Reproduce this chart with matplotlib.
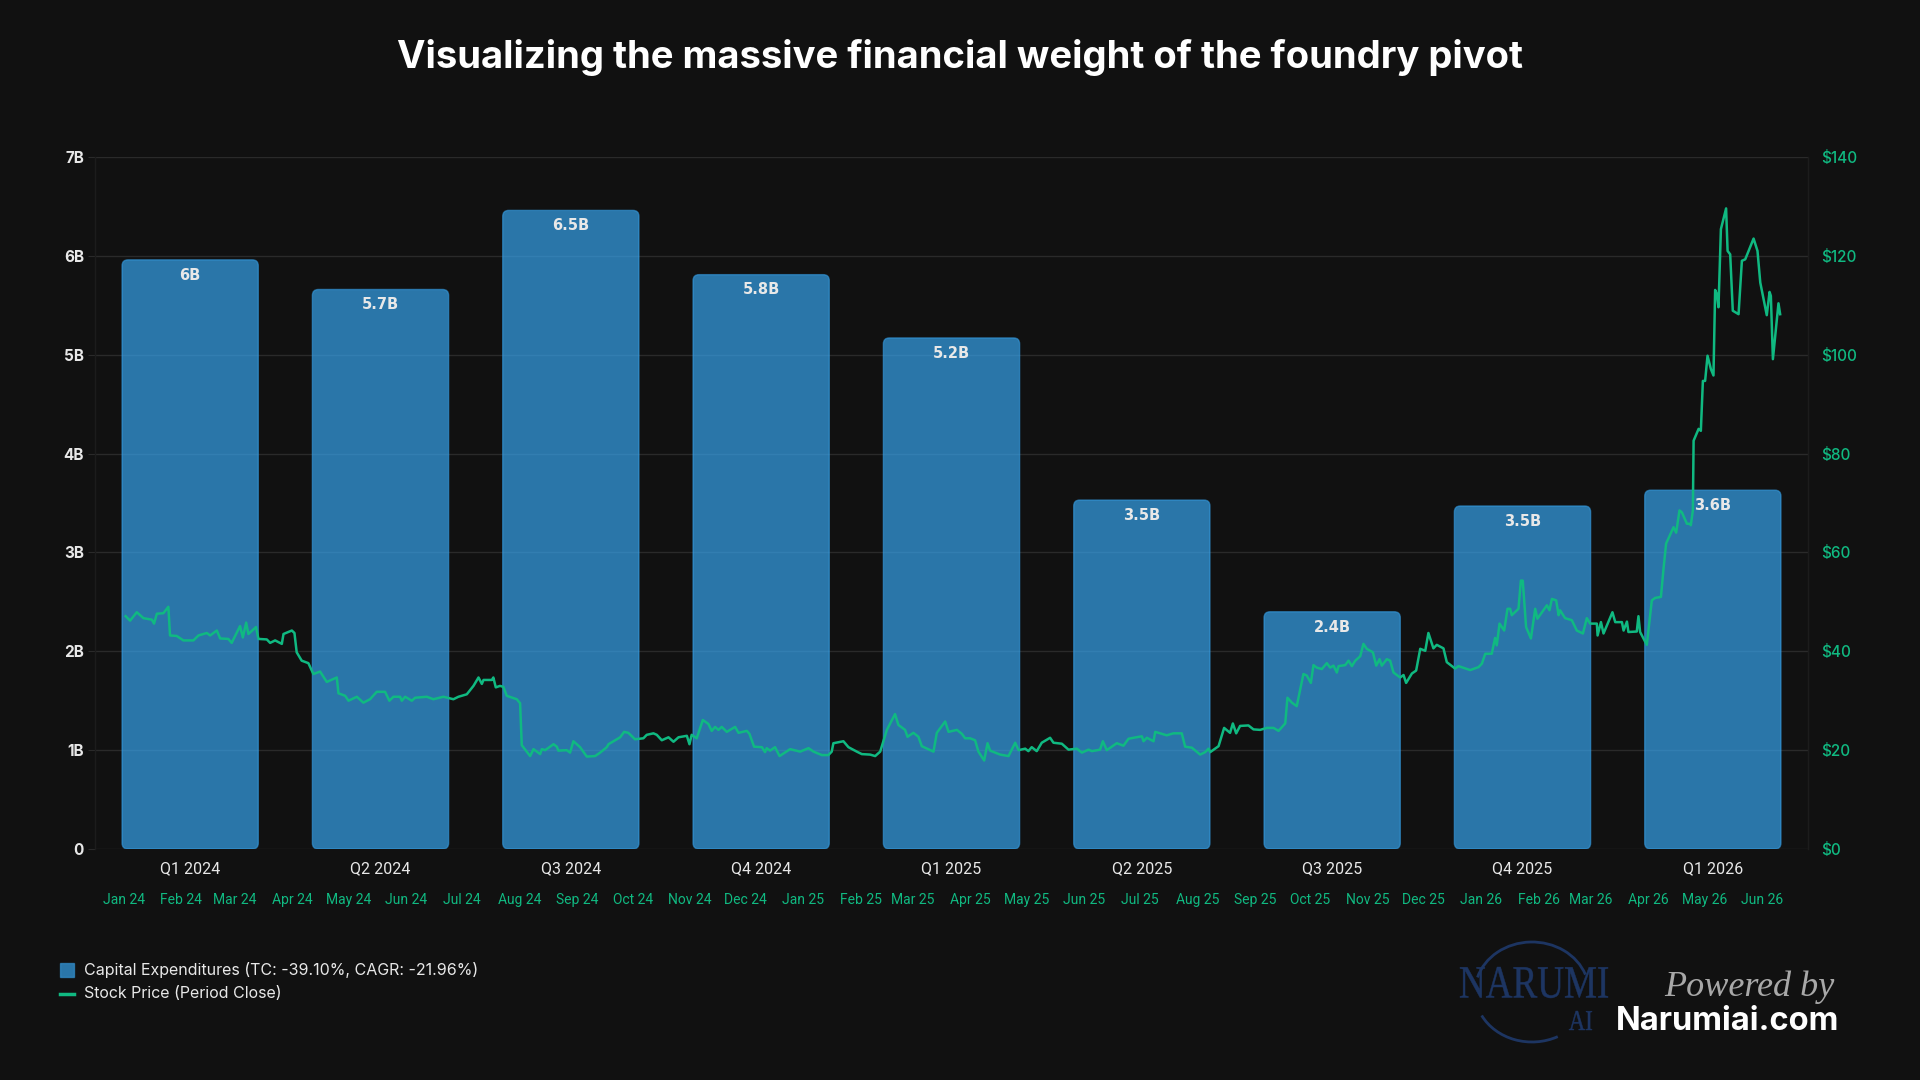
import numpy as np
import matplotlib
matplotlib.use("Agg")
import matplotlib.pyplot as plt
import matplotlib.dates as mdates
from matplotlib.patches import FancyBboxPatch, Arc, Rectangle, PathPatch
from matplotlib.lines import Line2D
from matplotlib.textpath import TextPath
from matplotlib.font_manager import FontProperties
from matplotlib.transforms import Affine2D

# ---------------- data ----------------
title = "Visualizing the massive financial weight of the foundry pivot"
quarters = ["Q1 2024", "Q2 2024", "Q3 2024", "Q4 2024", "Q1 2025",
            "Q2 2025", "Q3 2025", "Q4 2025", "Q1 2026"]
capex_billions = [5.96, 5.66, 6.46, 5.81, 5.17, 3.53, 2.40, 3.47, 3.63]
capex_tick_values = [0, 1, 2, 3, 4, 5, 6, 7]
capex_tick_labels = ["0", "1B", "2B", "3B", "4B", "5B", "6B", "7B"]
price_tick_values = [0, 20, 40, 60, 80, 100, 120, 140]
price_tick_labels = ["$0", "$20", "$40", "$60", "$80", "$100", "$120", "$140"]
legend_capex = "Capital Expenditures (TC: -39.10%, CAGR: -21.96%)"
legend_stock = "Stock Price (Period Close)"

stock_base_date = "2024-01-01"
stock_day_offset = [
    1.0, 3.4, 7.0, 10.6, 15.1, 16.3, 17.8, 21.3, 24.0, 24.9, 28.5, 32.1, 37.5, 40.2, 44.7, 46.5,
    50.1, 51.9, 56.3, 58.1, 62.6, 64.1, 65.9, 67.1, 71.2, 72.5, 77.0, 78.8, 81.5, 85.1, 86.0, 90.5,
    91.9, 93.1, 95.8, 99.4, 102.1, 105.7, 109.3, 114.7, 115.6, 119.2, 121.0, 125.5, 129.0, 132.6,
    136.2, 140.7, 143.0, 145.2, 148.8, 149.7, 151.5, 155.1, 156.9, 163.2, 166.7, 172.1, 177.5,
    180.2, 184.7, 188.3, 191.0, 192.8, 193.7, 198.2, 199.0, 200.3,
    202.6, 204.4, 206.2, 211.6, 213.4, 214.3, 218.8, 220.6, 224.2, 225.1, 226.9, 231.4, 233.2,
    234.0, 238.5, 240.3, 242.1, 245.7, 249.3, 253.8, 256.5, 260.1, 261.0, 264.6, 267.3, 269.4,
    271.7, 275.3, 279.8, 281.6, 285.2, 287.0, 289.7, 293.3, 296.0, 298.7, 303.2, 304.6, 305.8,
    308.5, 311.8, 314.8, 316.6, 318.4, 320.2, 322.0, 324.7, 329.2, 331.0, 335.5, 336.9, 339.4,
    343.6, 345.3, 346.2, 348.0, 350.7, 353.1, 358.8, 364.2, 368.7, 371.4, 375.9, 379.4, 381.2,
    382.1, 387.5, 390.2, 394.7, 397.4, 401.9, 404.6, 407.3, 410.9, 415.3, 417.1, 420.7, 422.0,
    425.2, 427.9, 429.7, 436.0, 437.8, 442.3, 444.1, 448.6, 451.3, 453.0, 455.7, 458.4, 460.2,
    463.3, 465.1, 466.5,
    471.9, 476.4, 480.0, 481.8, 485.4, 487.1, 488.9, 491.6, 494.3, 498.8, 500.6, 505.1, 508.7,
    513.2, 515.9, 519.5, 521.3, 525.7, 527.2, 529.3, 534.7, 538.3, 541.0, 543.7, 548.2, 549.1,
    550.9, 554.5, 555.4, 561.6, 565.2, 569.7, 571.5, 575.1, 579.6, 582.3, 584.1, 585.0, 589.5,
    592.5, 595.7, 597.2, 599.0, 601.1, 605.6, 608.3, 611.9, 615.5, 619.1, 621.8, 625.4, 626.6,
    629.0, 631.6, 635.2, 637.0, 639.2, 640.6, 642.4, 645.1, 647.8, 649.6, 651.4, 653.2, 654.1,
    657.7, 659.5, 661.3, 663.1, 665.8, 667.5, 669.3, 672.6, 674.4, 676.2, 677.4, 680.1, 681.9,
    683.7, 687.3, 689.1, 690.5, 693.6, 695.9, 698.1, 700.8, 702.5, 703.8, 705.2, 707.0, 710.6,
    712.4,
    716.9, 718.7, 725.0, 729.5, 731.3, 733.1, 736.6, 738.4, 739.3, 740.8, 743.3, 745.1, 746.5,
    747.4, 751.0, 752.3, 753.3, 755.1, 757.7, 760.0, 761.2, 766.3, 767.7, 769.0, 771.3, 772.6,
    773.4, 776.1, 779.7, 782.4, 785.7, 787.8, 789.6, 793.2, 793.6, 795.4, 796.8, 801.6, 803.1,
    806.7, 807.6, 809.4, 810.2, 814.7, 815.6, 816.5, 820.1, 822.8, 824.6, 827.7, 829.1, 830.5,
    834.5, 835.9, 837.7, 839.0, 841.7, 843.1, 843.8, 844.9, 845.3, 848.0, 849.2, 850.3, 851.5,
    852.8, 854.6, 856.0, 856.9, 857.8, 858.7, 860.0, 862.8, 863.6, 865.0, 866.4, 869.5, 871.3,
    873.1, 877.6, 879.7, 881.2, 884.7, 886.2, 886.9, 888.0, 891.0, 891.9,
]
stock_close = [
    47.1, 46.2, 47.9, 46.7, 46.4, 45.6, 47.6, 47.7, 49.0, 43.2, 43.1, 42.2, 42.2, 43.2, 43.7, 43.2,
    44.2, 42.6, 42.5, 41.7, 45.1, 42.8, 45.8, 43.5, 44.9, 42.5, 42.4, 41.7, 42.2, 41.5, 43.5, 44.2,
    43.7, 39.8, 38.1, 37.6, 35.4, 35.9, 33.8, 34.7, 31.5, 31.0, 30.0, 30.8, 29.6, 30.3,
    31.8, 31.8, 30.0, 30.8, 30.8, 30.0, 30.8, 30.0, 30.6, 30.8, 30.3, 30.8, 30.3,
    30.8, 31.3, 33.0, 34.7, 33.4, 34.2, 34.2, 34.7, 32.7,
    33.0, 32.8, 31.0, 30.3, 29.5, 21.0, 18.8, 20.2, 19.2, 20.2, 20.0, 21.2, 20.7,
    19.9, 20.0, 19.5, 21.8, 20.6, 18.7, 18.8, 19.5, 20.6, 21.2, 22.0, 22.6, 23.7,
    23.5, 22.2, 22.4, 23.1, 23.4, 23.1, 22.0, 22.6, 21.7, 22.6, 22.9, 21.2, 23.1,
    22.4, 26.1, 25.3, 23.9, 24.7, 24.1, 24.7, 23.7, 24.7, 23.5, 23.9, 23.3, 20.7,
    20.6, 19.6, 20.4, 19.9, 20.6, 18.8, 20.2, 19.7, 20.4, 19.7, 19.0, 19.0, 19.7,
    21.4, 21.8, 20.6, 19.7, 19.2, 19.1, 18.8, 19.7, 24.1, 27.3, 25.1, 24.1, 22.7,
    23.5, 22.7, 20.8, 19.7, 23.5, 25.8, 23.7, 24.1, 23.3, 22.4, 22.4, 22.0, 19.7,
    17.9, 21.4, 19.9,
    19.1, 18.8, 21.5, 20.0, 20.3, 19.8, 20.6, 19.8, 21.5, 22.5, 21.5, 21.3, 20.1,
    20.3, 19.5, 20.1, 19.8, 20.1, 21.8, 20.0, 21.4, 20.9, 22.3, 22.5, 22.8, 21.8,
    22.5, 21.8, 23.7, 23.0, 23.4, 23.4, 20.7, 20.5, 19.1, 19.6, 20.3, 19.6, 20.8,
    24.5, 23.5, 25.4, 23.4, 24.9, 25.0, 24.2, 24.1, 24.5, 24.5, 23.9, 25.4, 30.6,
    29.6, 28.9, 35.4, 35.1, 33.6, 37.2, 36.7, 36.4, 37.6, 36.7, 37.1, 35.7, 37.0,
    37.2, 38.1, 37.0, 38.1, 39.0, 41.5, 40.5, 39.8, 37.1, 38.4, 37.1, 38.4, 38.1,
    35.7, 34.7, 35.2, 33.6, 35.5, 36.1, 40.5, 40.1, 43.7, 42.2, 40.6, 41.3, 40.6,
    37.8,
    36.5, 37.0, 36.2, 36.8, 37.5, 39.5, 39.5, 42.7, 41.2, 45.6, 44.2, 48.6, 48.6,
    47.3, 48.6, 54.3, 54.3, 44.9, 42.6, 48.6, 46.6, 49.3, 48.3, 50.6, 50.3, 47.3,
    48.3, 46.7, 46.3, 44.2, 43.6, 46.7, 45.6, 45.6, 43.2, 45.9, 43.6, 47.9, 45.9,
    45.9, 44.2, 46.0, 43.9, 44.0, 47.1, 43.9, 41.3, 50.3, 50.8, 51.0, 56.7, 61.8,
    65.1, 64.0, 68.5, 68.1, 65.8, 65.8, 65.5, 68.5, 82.6, 85.0, 84.6, 94.7, 94.7,
    99.8, 97.1, 95.8, 113.1, 112.3, 109.6, 125.4, 129.6, 121.0, 120.3, 108.9, 108.2, 119.0,
    119.3, 123.5, 121.0, 114.6, 108.0, 112.7, 111.9, 99.1, 110.4, 108.2,
]

# ---------------- style ----------------
BG = "#111111"
GRID = "#2a2a2a"
GREEN = "#10b981"
BAR_FACE = (54 / 255, 162 / 255, 235 / 255, 0.70)
BAR_EDGE = (54 / 255, 162 / 255, 235 / 255, 0.55)
TXT = "#e8e8e8"

W_PX, H_PX = 1920, 1080
fig = plt.figure(figsize=(19.2, 10.8), dpi=100, facecolor=BG)

ax_l, ax_r, ax_t, ax_b = 95, 1808, 157, 849
rect = [ax_l / W_PX, 1 - ax_b / H_PX, (ax_r - ax_l) / W_PX, (ax_b - ax_t) / H_PX]

# ---- bars (capex) ----
ax = fig.add_axes(rect)
ax.set_facecolor(BG)
xpos = np.arange(len(quarters))
ax.set_xlim(-0.5, len(quarters) - 0.5)
ax.set_ylim(0, 7)
bars = ax.bar(xpos, capex_billions, width=0.716, color=BAR_FACE,
              edgecolor=BAR_EDGE, linewidth=1.0, zorder=2)

# rounded corners: replace each rectangle by a rounded box of the same extent
px_x = (len(quarters)) / (ax_r - ax_l)
px_y = 7.0 / (ax_b - ax_t)
r_x = 6 * px_x
aspect = (6 * px_y) / r_x
for b in bars:
    x0, y0 = b.get_x(), b.get_y()
    w, h = b.get_width(), b.get_height()
    b.set_visible(False)
    fb = FancyBboxPatch((x0, y0), w, h,
                        boxstyle=f"round,pad=0,rounding_size={r_x}",
                        mutation_aspect=aspect, facecolor=BAR_FACE,
                        edgecolor=BAR_EDGE, linewidth=1.0, zorder=2)
    ax.add_patch(fb)

for xi, v in zip(xpos, capex_billions):
    lab = f"{v:.1f}".rstrip("0").rstrip(".") + "B"
    ax.annotate(lab, (xi, v), xytext=(0, -11), textcoords="offset points",
                ha="center", va="center", color=TXT, fontsize=10.5,
                fontweight="bold", family="DejaVu Sans", zorder=5)

ax.set_yticks(capex_tick_values)
ax.set_yticklabels(capex_tick_labels)
ax.set_xticks(xpos)
ax.set_xticklabels(quarters)
ax.grid(axis="y", color=GRID, linewidth=1.0, zorder=0)
ax.set_axisbelow(True)
for name, s in ax.spines.items():
    if name in ("left", "right"):
        s.set_color("#1c1c1c")
        s.set_linewidth(1.0)
    else:
        s.set_visible(False)
ax.tick_params(axis="y", length=5, color=GRID, labelcolor=TXT, labelsize=11, pad=3)
ax.tick_params(axis="x", length=0, labelcolor=TXT, labelsize=11.5, pad=9)
for t in ax.get_yticklabels():
    t.set_fontweight("bold")
    t.set_family(["Inter", "DejaVu Sans"])
for t in ax.get_xticklabels():
    t.set_family(["Roboto", "DejaVu Sans"])

# ---- stock line on its own time / price axes ----
axl = fig.add_axes(rect, frameon=False)
axl.patch.set_alpha(0)
base = mdates.date2num(np.datetime64(stock_base_date))
dates = base + np.asarray(stock_day_offset)
axl.plot(dates, stock_close, color=GREEN, linewidth=1.8, zorder=4)
axl.set_xlim(base - 15.5, base + 906.9)
axl.set_ylim(0, 140)
axl.yaxis.tick_right()
axl.set_yticks(price_tick_values)
axl.set_yticklabels(price_tick_labels)
axl.tick_params(axis="y", length=0, labelcolor=GREEN, labelsize=11, pad=9.5)
for t in axl.get_yticklabels():
    t.set_family(["Inter", "DejaVu Sans"])
    t.set_fontweight("medium")
axl.xaxis.set_major_locator(mdates.MonthLocator())
axl.xaxis.set_major_formatter(mdates.DateFormatter("%b %y"))
axl.tick_params(axis="x", length=0, labelcolor=GREEN, labelsize=10, pad=32)
for t in axl.get_xticklabels():
    t.set_family(["Roboto", "DejaVu Sans"])

# ---- title ----
fig.text(0.5, 1 - 57 / H_PX, title, ha="center", va="center", color="white",
         fontsize=27.5, fontweight="bold", family=["Inter", "DejaVu Sans"])

# ---- legend (bottom-left) ----
fig.patches.append(Rectangle((60 / W_PX, 1 - 976.5 / H_PX), 14 / W_PX, 13.5 / H_PX,
                             transform=fig.transFigure, facecolor=BAR_FACE,
                             edgecolor=BAR_EDGE, linewidth=1))
fig.lines.append(Line2D([60 / W_PX, 74 / W_PX], [1 - 993.5 / H_PX, 1 - 993.5 / H_PX],
                        transform=fig.transFigure, color=GREEN, linewidth=2.5))
fig.text(84 / W_PX, 1 - 969.5 / H_PX, legend_capex, ha="left", va="center",
         color=TXT, fontsize=11.5, family=["Inter", "DejaVu Sans"])
fig.text(84 / W_PX, 1 - 994 / H_PX, legend_stock, ha="left", va="center",
         color=TXT, fontsize=11.5, family=["Inter", "DejaVu Sans"])

# ---- logo / branding (bottom-right) ----
axg = fig.add_axes([1440 / W_PX, 1 - 1060 / H_PX, 420 / W_PX, 130 / H_PX], frameon=False)
axg.set_xlim(1440, 1860)
axg.set_ylim(1080 - 1060, 1080 - 930)
axg.set_xticks([])
axg.set_yticks([])
axg.patch.set_alpha(0)
NAVY = "#1d3562"


def boxed_text(txt, x0, x1, y_top, y_bot, family, color):
    tp = TextPath((0, 0), txt, size=1, prop=FontProperties(family=family))
    ext = tp.get_extents()
    tr = (Affine2D().translate(-ext.x0, -ext.y0)
          .scale((x1 - x0) / ext.width, (y_bot - y_top) / ext.height)
          .translate(x0, 1080 - y_bot))
    axg.add_patch(PathPatch(tr.transform_path(tp), facecolor=color,
                            edgecolor=color, linewidth=0.3))


axg.add_patch(Arc((1532, 1080 - 992), 114, 100, theta1=18, theta2=165,
                  color=NAVY, linewidth=2.0))
axg.add_patch(Arc((1532, 1080 - 992), 114, 100, theta1=205, theta2=300,
                  color=NAVY, linewidth=2.0))
boxed_text("NARUMI", 1460, 1608, 967, 998, "Liberation Serif", NAVY)
boxed_text("AI", 1569, 1592, 1011, 1030, "Liberation Serif", NAVY)
axg.text(1749, 1080 - 987, "Powered by", ha="center", va="center", color="#a8a8a8",
         fontsize=26, family=["Liberation Serif", "DejaVu Serif"], style="italic")
axg.text(1728, 1080 - 1022, "Narumiai.com", ha="center", va="center", color="white",
         fontsize=23.5, fontweight="bold", family=["Inter", "DejaVu Sans"])

fig.savefig("out.png", dpi=100, facecolor=BG)
